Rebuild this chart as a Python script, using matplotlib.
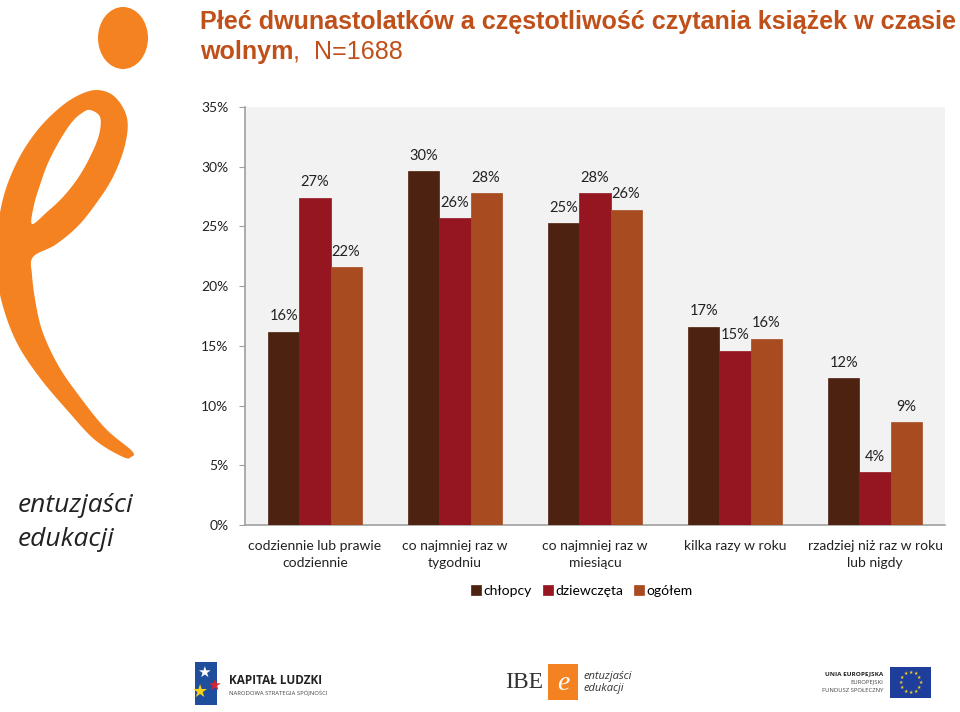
import matplotlib
matplotlib.use("Agg")
import matplotlib.pyplot as plt
import numpy as np
from matplotlib.path import Path
from matplotlib.patches import PathPatch, Ellipse, Rectangle

# ---- data ----
categories = ["codziennie lub prawie\ncodziennie",
              "co najmniej raz w\ntygodniu",
              "co najmniej raz w\nmiesiącu",
              "kilka razy w roku",
              "rzadziej niż raz w roku\nlub nigdy"]
series_names = ["chłopcy", "dziewczęta", "ogółem"]
chlopcy = [16.2, 29.6, 25.3, 16.6, 12.3]
dziewczeta = [27.4, 25.7, 27.8, 14.6, 4.4]
ogolem = [21.6, 27.8, 26.4, 15.6, 8.6]
y_ticks = [0, 5, 10, 15, 20, 25, 30, 35]

colors = ["#4e2210", "#951520", "#a84b20"]
W, H = 960, 712
fig = plt.figure(figsize=(9.6, 7.12), dpi=100)
fig.patch.set_facecolor("white")

def fx(px):
    return px / W

def fy(py):
    return 1 - py / H

# ---- title ----
tc = "#c0501a"
tfam = ["Liberation Sans", "DejaVu Sans"]
fig.text(fx(200), fy(22), "Płeć dwunastolatków a częstotliwość czytania książek w czasie",
         fontsize=18.1, fontweight="bold", color=tc, va="center", ha="left", family=tfam)
t2 = fig.text(fx(200), fy(52), "wolnym", fontsize=18.1, fontweight="bold", color=tc,
              va="center", ha="left", family=tfam)
renderer = fig.canvas.get_renderer()
bb = t2.get_window_extent(renderer=renderer)
fig.text(bb.x1 / W, fy(52), ",  N=1688", fontsize=18.1, color=tc,
         va="center", ha="left", family=tfam)

# ---- chart ----
ax = fig.add_axes([fx(245), fy(525), fx(945) - fx(245), fy(107) - fy(525)])
ax.set_facecolor("#f2f2f2")
x = np.arange(len(categories))
bw = 0.222
font_chart = ["Lato", "DejaVu Sans"]
for i, (vals, name) in enumerate(zip([chlopcy, dziewczeta, ogolem], series_names)):
    bars = ax.bar(x + (i - 1) * bw, vals, width=bw, color=colors[i], label=name,
                  edgecolor=colors[i], linewidth=0.5, zorder=3)
    ax.bar_label(bars, fmt="%.0f%%", padding=6, fontsize=10.5, color="#222222",
                 family=font_chart)
ax.set_xlim(-0.5, len(categories) - 0.5)
ax.set_ylim(0, 35)
ax.set_yticks(y_ticks)
ax.set_yticklabels([f"{t}%" for t in y_ticks], family=font_chart, fontsize=10, color="#222222")
ax.set_xticks(x)
ax.set_xticklabels(categories, family=font_chart, fontsize=10, color="#222222",
                   linespacing=1.45)
ax.tick_params(axis="x", length=0, pad=11)
ax.tick_params(axis="y", length=4, color="#a0a0a0", pad=8)
for s in ["top", "right"]:
    ax.spines[s].set_visible(False)
for s in ["left", "bottom"]:
    ax.spines[s].set_color("#a0a0a0")
    ax.spines[s].set_linewidth(1.2)

leg = fig.legend(loc="center", bbox_to_anchor=(fx(582), fy(591)), ncol=3, frameon=False,
                 prop={"family": font_chart, "size": 10}, handlelength=0.7, handleheight=0.7,
                 handletextpad=0.2, columnspacing=0.8)

# ---- decorative logo "e" ----
def smooth(pts, n=12):
    pts = np.array(pts, float)
    m = len(pts)
    out = []
    for i in range(m):
        p0, p1, p2, p3 = pts[(i - 1) % m], pts[i], pts[(i + 1) % m], pts[(i + 2) % m]
        for t in np.linspace(0, 1, n, endpoint=False):
            t2_, t3_ = t * t, t * t * t
            out.append(0.5 * ((2 * p1) + (-p0 + p2) * t + (2 * p0 - 5 * p1 + 4 * p2 - p3) * t2_
                              + (-p0 + 3 * p1 - 3 * p2 + p3) * t3_))
    return np.array(out)

outer = [(97, 90), (115, 97), (127, 118), (125, 145), (113, 177), (95, 205), (77, 227),
         (55, 245), (33, 257), (32, 275), (36, 305), (43, 333), (58, 365), (77, 393),
         (105, 428), (132, 451), (131, 457), (123, 457), (95, 440), (67, 410), (40, 378),
         (18, 345), (4, 310), (-3, 275), (-3, 235), (4, 195), (18, 160), (36, 132),
         (57, 110), (77, 96)]
inner = [(90, 110), (100, 117), (99, 135), (90, 157), (78, 178), (63, 197), (47, 212),
         (32, 224), (34, 205), (40, 185), (48, 163), (60, 140), (72, 122), (82, 113)]

def area(p):
    p = np.asarray(p)
    return 0.5 * np.sum(p[:, 0] * np.roll(p[:, 1], -1) - np.roll(p[:, 0], -1) * p[:, 1])

o = smooth(outer)
ii = smooth(inner)
if np.sign(area(o)) == np.sign(area(ii)):
    ii = ii[::-1]
verts, codes = [], []
for poly in (o, ii):
    pts = [(fx(a), fy(b)) for a, b in poly]
    verts += pts + [pts[0]]
    codes += [Path.MOVETO] + [Path.LINETO] * (len(pts) - 1) + [Path.CLOSEPOLY]
orange = "#f58220"
fig.patches.append(PathPatch(Path(verts, codes), facecolor=orange, edgecolor="none",
                             transform=fig.transFigure))
fig.patches.append(Ellipse((fx(123), fy(38)), fx(50), 62 / H, angle=0, facecolor=orange,
                           edgecolor="none", transform=fig.transFigure))

fig.text(fx(18), fy(505), "entuzjaści", fontsize=19, style="italic", color="#222222",
         va="center", ha="left", family=["Open Sans", "DejaVu Sans"])
fig.text(fx(18), fy(540), "edukacji", fontsize=19, style="italic", color="#222222",
         va="center", ha="left", family=["Open Sans", "DejaVu Sans"])

# ---- footer ----
fig.patches.append(Rectangle((fx(195), fy(705)), fx(22), 43 / H, facecolor="#1f4e9c",
                             edgecolor="none", transform=fig.transFigure))
fig.text(fx(204), fy(672), "★", fontsize=11, color="white", ha="center", va="center")
fig.text(fx(214), fy(685), "★", fontsize=11, color="#d9232d", ha="center", va="center")
fig.text(fx(200), fy(692), "★", fontsize=13, color="#f7d117", ha="center", va="center")
fig.text(fx(229), fy(681), "KAPITAŁ LUDZKI", fontsize=8.5, fontweight="bold", color="#222222",
         ha="left", va="center", family=["Open Sans", "DejaVu Sans"])
fig.text(fx(229), fy(692), "NARODOWA STRATEGIA SPÓJNOŚCI", fontsize=4.2, color="#444444",
         ha="left", va="center", family=["Open Sans", "DejaVu Sans"])

fig.text(fx(505), fy(683), "IBE", fontsize=17, color="#333333", ha="left", va="center",
         family=["Liberation Serif", "DejaVu Serif"])
fig.patches.append(Rectangle((fx(548), fy(700)), fx(30), 36 / H, facecolor=orange,
                             edgecolor="none", transform=fig.transFigure))
fig.text(fx(563), fy(683), "e", fontsize=20, style="italic", color="white", ha="center",
         va="center", family=["Liberation Serif", "DejaVu Serif"])
fig.text(fx(583), fy(676), "entuzjaści", fontsize=8, style="italic", color="#333333",
         ha="left", va="center", family=["Open Sans", "DejaVu Sans"])
fig.text(fx(583), fy(689), "edukacji", fontsize=8, style="italic", color="#333333",
         ha="left", va="center", family=["Open Sans", "DejaVu Sans"])

fig.text(fx(883), fy(674), "UNIA EUROPEJSKA", fontsize=4.6, fontweight="bold", color="#222222",
         ha="right", va="center", family=["Open Sans", "DejaVu Sans"])
fig.text(fx(883), fy(682), "EUROPEJSKI", fontsize=4.2, color="#444444",
         ha="right", va="center", family=["Open Sans", "DejaVu Sans"])
fig.text(fx(883), fy(690), "FUNDUSZ SPOŁECZNY", fontsize=4.2, color="#444444",
         ha="right", va="center", family=["Open Sans", "DejaVu Sans"])
fig.patches.append(Rectangle((fx(890), fy(698)), fx(41), 31 / H, facecolor="#1f3e9c",
                             edgecolor="none", transform=fig.transFigure))
for k in range(12):
    a = 2 * np.pi * k / 12
    fig.text(fx(910.5 + 10 * np.cos(a)), fy(682.5 + 10 * np.sin(a)), "★", fontsize=3.5,
             color="#f7d117", ha="center", va="center")

fig.savefig("out.png", dpi=100, facecolor="white")
